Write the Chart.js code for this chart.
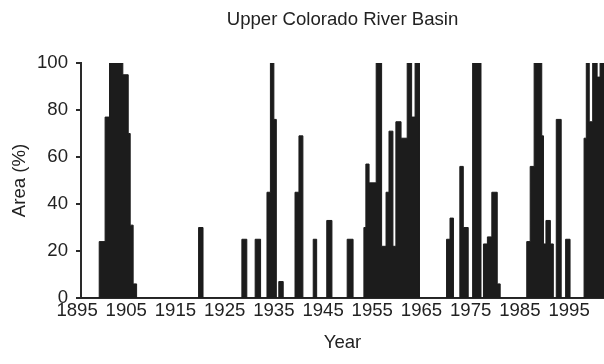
<!DOCTYPE html>
<html>
<head>
<meta charset="utf-8">
<title>Upper Colorado River Basin</title>
<script src="https://cdn.jsdelivr.net/npm/chart.js@4/dist/chart.umd.min.js"></script>
<style>
  html, body { margin: 0; padding: 0; background: #fff; }
  #wrap { width: 604px; height: 364px; }
</style>
</head>
<body>
<div id="wrap"><canvas id="basin" width="604" height="364"></canvas></div>
<script>
// decade labels along the year axis
const tickYears = [1895, 1905, 1915, 1925, 1935, 1945, 1955, 1965, 1975, 1985, 1995];
const areaTicks = [0, 20, 40, 60, 80, 100];

// drought area steps: each value holds from its year until the next year in the list
const stepYears = [
  1895.8, 1899.5, 1900.7, 1901.6, 1904.3, 1905.4, 1905.8, 1906.4, 1907.1,
  1919.7, 1920.6, 1928.5, 1929.5, 1931.2, 1932.3,
  1933.6, 1934.3, 1935.0, 1935.5, 1936.0, 1936.9,
  1939.3, 1940.1, 1940.9, 1943.0, 1943.7, 1945.75, 1946.8, 1949.9, 1951.1,
  1953.3, 1953.7, 1954.35, 1955.8, 1956.9, 1957.8, 1958.4, 1959.2, 1959.8,
  1960.85, 1962.1, 1963.0, 1963.7, 1964.6,
  1970.1, 1970.8, 1971.5, 1972.8, 1973.5, 1974.5, 1975.4, 1977.1,
  1977.6, 1978.4, 1979.3, 1980.4, 1981.0,
  1986.4, 1987.1, 1987.9, 1989.45, 1989.8, 1990.3, 1991.2, 1991.8,
  1992.4, 1993.4, 1994.3, 1995.2,
  1998.05, 1998.5, 1999.1, 1999.8, 2000.7, 2001.3, 2002.1
];
const areaPct = [
  0, 24, 77, 100, 95, 70, 31, 6, 0,
  30, 0, 25, 0, 25, 0,
  45, 100, 76, 0, 7, 0,
  45, 69, 0, 25, 0, 33, 0, 25, 0,
  30, 57, 49, 100, 22, 45, 71, 22, 75,
  68, 100, 77, 100, 0,
  25, 34, 0, 56, 30, 0, 100, 0,
  23, 26, 45, 6, 0,
  24, 56, 100, 69, 23, 33, 23, 0,
  76, 0, 25, 0,
  68, 100, 75, 100, 94, 100, 100
];

const ink = '#1c1c1c';
const textCol = '#222';
Chart.defaults.font.family = '"Liberation Sans", Arial, sans-serif';
Chart.defaults.font.size = 18.6;
Chart.defaults.color = textCol;

const ctx = document.getElementById('basin').getContext('2d');
new Chart(ctx, {
  type: 'line',
  data: {
    datasets: [{
      data: stepYears.map((yr, i) => ({x: yr, y: areaPct[i]})),
      stepped: true,
      fill: 'origin',
      backgroundColor: ink,
      borderColor: ink,
      borderWidth: 1,
      pointRadius: 0,
      tension: 0
    }]
  },
  options: {
    responsive: false,
    animation: false,
    layout: { padding: 0 },
    plugins: {
      legend: { display: false },
      tooltip: { enabled: false },
      title: {
        display: true,
        text: 'Upper Colorado River Basin',
        fullSize: false,
        color: textCol,
        font: { size: 18.6, weight: 'normal' },
        padding: { top: 9.2, bottom: 31.5 }
      }
    },
    scales: {
      x: {
        type: 'linear',
        min: stepYears[0],
        max: stepYears[stepYears.length - 1],
        afterBuildTicks: (scale) => {
          scale.ticks = tickYears.map(v => ({value: v}));
        },
        // fixed band height, and let the 1895 label hang past the y axis
        afterFit: (scale) => {
          scale.height = 66;
          scale.paddingLeft = 0;
          scale.paddingRight = 0;
        },
        ticks: {
          padding: 2,
          maxRotation: 0,
          autoSkip: false,
          callback: (v) => String(v)
        },
        grid: { display: false, drawTicks: false, tickLength: 0 },
        border: { display: true, color: '#2a2a2a', width: 2 },
        title: {
          display: true,
          text: 'Year',
          padding: { top: 8, bottom: 9.85 }
        }
      },
      y: {
        min: 0,
        max: 100,
        afterBuildTicks: (scale) => {
          scale.ticks = areaTicks.map(v => ({value: v}));
        },
        afterFit: (scale) => {
          scale.width = 81;
        },
        ticks: { padding: 8 },
        grid: {
          display: true,
          drawOnChartArea: false,
          drawTicks: true,
          tickLength: 5,
          color: '#2a2a2a',
          lineWidth: 2
        },
        border: { display: true, color: '#2a2a2a', width: 2 },
        title: {
          display: true,
          text: 'Area (%)',
          padding: { top: 8.85, bottom: 0 }
        }
      }
    }
  }
});
</script>
</body>
</html>
